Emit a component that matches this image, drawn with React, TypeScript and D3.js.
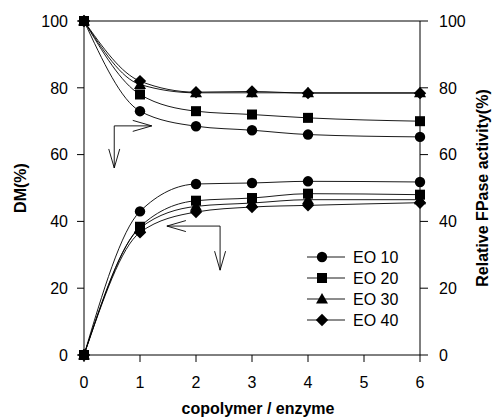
import React from "react";
import * as d3 from "d3";

const xValues = [0, 1, 2, 3, 4, 6];
const xTicks = [0, 1, 2, 3, 4, 5, 6];
const yTicks = [0, 20, 40, 60, 80, 100];
const seriesNames = ["EO 10", "EO 20", "EO 30", "EO 40"];
const markerShapes = ["circle", "square", "triangle", "diamond"];

// Relative FPase activity (%) — upper group (right axis)
const activityEO10 = [100, 73, 68.5, 67.3, 66, 65.3];
const activityEO20 = [100, 78, 73, 72, 71, 70];
const activityEO30 = [100, 81, 78.5, 78.5, 78.5, 78.5];
const activityEO40 = [100, 82, 78.7, 78.9, 78.4, 78.4];

// DM (%) — lower group (left axis)
const dmEO10 = [0, 43, 51.2, 51.5, 52, 51.8];
const dmEO20 = [0, 38.4, 46.2, 47, 48.3, 48];
const dmEO30 = [0, 38, 44.5, 45.5, 46.5, 46.5];
const dmEO40 = [0, 36.7, 42.8, 44.3, 44.8, 45.6];

const activitySeries = [activityEO10, activityEO20, activityEO30, activityEO40];
const dmSeries = [dmEO10, dmEO20, dmEO30, dmEO40];

// Annotation arrows in data coordinates: corner, horizontal end, vertical end
const arrowActivity = { cx: 0.54, cy: 68.6, hx: 1.21, vy: 56 };
const arrowDM = { cx: 2.43, cy: 38.6, hx: 1.48, vy: 25.4 };

const W = 492;
const H = 420;
const left = 84;
const right = 420;
const top = 21;
const bottom = 355;
const FONT = "'Liberation Sans', Arial, Helvetica, sans-serif";

function Marker({ shape, x, y }: { shape: string; x: number; y: number }) {
  if (shape === "circle") return <circle cx={x} cy={y} r={5.2} fill="#000" />;
  if (shape === "square") return <rect x={x - 5} y={y - 5} width={10} height={10} fill="#000" />;
  if (shape === "triangle") {
    const s = 6;
    return <path d={`M${x},${y - s}L${x + s},${y + s * 0.75}L${x - s},${y + s * 0.75}Z`} fill="#000" />;
  }
  const s = 6.2;
  return <path d={`M${x},${y - s}L${x + s},${y}L${x},${y + s}L${x - s},${y}Z`} fill="#000" />;
}

function LArrow({ a, xs, ys, hdir }: { a: any; xs: any; ys: any; hdir: number }) {
  const cx = xs(a.cx), cy = ys(a.cy), hx = xs(a.hx), vy = ys(a.vy);
  const L = 19, hw = 5.5;
  return (
    <g stroke="#000" strokeWidth={0.9} fill="none">
      <line x1={cx} y1={cy} x2={hx} y2={cy} />
      <line x1={cx} y1={cy} x2={cx} y2={vy} />
      <path d={`M${hx - hdir * L},${cy - hw}L${hx},${cy}L${hx - hdir * L},${cy + hw}`} />
      <path d={`M${cx - hw},${vy - L}L${cx},${vy}L${cx + hw},${vy - L}`} />
    </g>
  );
}

export default function App() {
  const xs = d3.scaleLinear().domain([0, 6]).range([left, right]);
  const ys = d3.scaleLinear().domain([0, 100]).range([bottom, top]);
  const line = d3
    .line<number>()
    .x((_, i) => xs(xValues[i]))
    .y((d) => ys(d))
    .curve(d3.curveMonotoneX);

  const legendY = [257, 278, 299, 320];

  return (
    <svg
      width={W}
      height={H}
      style={{ position: "absolute", left: 0, top: 0, background: "#fff" }}
      fontFamily={FONT}
    >
      <rect x={0} y={0} width={W} height={H} fill="#fff" />
      {/* frame */}
      <g stroke="#000" strokeWidth={1} fill="none">
        <line x1={left} y1={top} x2={right} y2={top} />
        <line x1={left} y1={bottom} x2={right} y2={bottom} />
        <line x1={left} y1={top} x2={left} y2={bottom} />
        <line x1={right} y1={top} x2={right} y2={bottom} />
      </g>
      {/* left axis */}
      {yTicks.map((t) => (
        <g key={"l" + t}>
          <line x1={left - 7} x2={left} y1={ys(t)} y2={ys(t)} stroke="#000" />
          <text x={68} y={ys(t)} dy="0.36em" textAnchor="end" fontSize={16}>
            {t}
          </text>
        </g>
      ))}
      {/* right axis */}
      {yTicks.map((t) => (
        <g key={"r" + t}>
          <line x1={right} x2={right + 8} y1={ys(t)} y2={ys(t)} stroke="#000" />
          <text x={439} y={ys(t)} dy="0.36em" textAnchor="start" fontSize={16}>
            {t}
          </text>
        </g>
      ))}
      {/* bottom axis */}
      {xTicks.map((t) => (
        <g key={"b" + t}>
          <line x1={xs(t)} x2={xs(t)} y1={bottom} y2={bottom + 7} stroke="#000" />
          <text x={xs(t)} y={388} textAnchor="middle" fontSize={16}>
            {t}
          </text>
        </g>
      ))}
      {/* axis titles */}
      <text
        transform={`translate(26,${(top + bottom) / 2}) rotate(-90)`}
        textAnchor="middle"
        fontSize={16}
        fontWeight="bold"
      >
        DM(%)
      </text>
      <text
        transform={`translate(488,${(top + bottom) / 2}) rotate(-90)`}
        textAnchor="middle"
        fontSize={16}
        fontWeight="bold"
      >
        Relative FPase activity(%)
      </text>
      <text x={258} y={414} textAnchor="middle" fontSize={16} fontWeight="bold">
        copolymer / enzyme
      </text>
      {/* lines */}
      <g fill="none" stroke="#000" strokeWidth={0.9}>
        {activitySeries.map((s, i) => (
          <path key={"al" + i} d={line(s) || ""} />
        ))}
        {dmSeries.map((s, i) => (
          <path key={"dl" + i} d={line(s) || ""} />
        ))}
      </g>
      {/* markers */}
      {activitySeries.map((s, i) =>
        s.map((v, j) => <Marker key={`am${i}-${j}`} shape={markerShapes[i]} x={xs(xValues[j])} y={ys(v)} />)
      )}
      {dmSeries.map((s, i) =>
        s.map((v, j) => <Marker key={`dm${i}-${j}`} shape={markerShapes[i]} x={xs(xValues[j])} y={ys(v)} />)
      )}
      {/* arrows */}
      <LArrow a={arrowActivity} xs={xs} ys={ys} hdir={1} />
      <LArrow a={arrowDM} xs={xs} ys={ys} hdir={-1} />
      {/* legend */}
      {seriesNames.map((n, i) => (
        <g key={"lg" + i}>
          <line x1={307} x2={345} y1={legendY[i]} y2={legendY[i]} stroke="#000" strokeWidth={0.9} />
          <Marker shape={markerShapes[i]} x={322} y={legendY[i]} />
          <text x={353} y={legendY[i]} dy="0.36em" fontSize={16}>
            {n}
          </text>
        </g>
      ))}
    </svg>
  );
}
